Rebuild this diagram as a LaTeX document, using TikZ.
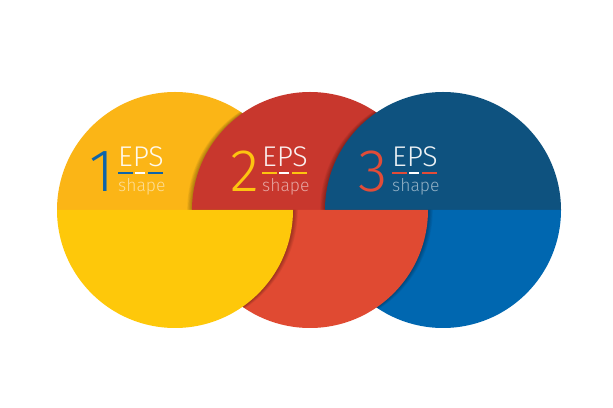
\documentclass[tikz,border=0pt]{standalone}
\usepackage{fontspec}
\setmainfont{Fira Sans}[UprightFont={* Light}]
\usepackage{tikz}
\usetikzlibrary{positioning, calc}
\definecolor{yeltop}{RGB}{251,181,22}
\definecolor{yelbot}{RGB}{254,200,10}
\definecolor{redtop}{RGB}{200,55,45}
\definecolor{redbot}{RGB}{224,74,50}
\definecolor{bluetop}{RGB}{14,82,127}
\definecolor{bluebot}{RGB}{0,103,176}
\definecolor{numblue}{RGB}{14,100,168}
\definecolor{numyel}{RGB}{253,196,16}
\definecolor{numred}{RGB}{226,76,56}

% half discs of radius 118pt
\newcommand{\tophalf}[1]{(#1) ++(118pt,0) arc[start angle=0, end angle=180, radius=118pt] -- cycle}
\newcommand{\bothalf}[1]{(#1) ++(-118pt,0) arc[start angle=180, end angle=360, radius=118pt] -- cycle}

\begin{document}
\begin{tikzpicture}[x=1pt, y=1pt,
    eps/.style={inner sep=0pt, text=white, text opacity=0.92, font=\fontsize{28.5}{30}\selectfont},
    shp/.style={inner sep=0pt, text=white, text opacity=0.55, font=\fontsize{17.5}{19}\selectfont},
    num/.style={inner sep=0pt, font=\fontsize{60}{62}\selectfont},
    rule/.style={line width=2pt},
    shade/.style={black, opacity=0.05},
  ]
  \fill[white] (0,0) rectangle (613,407);
  \useasboundingbox (0,0) rectangle (613,407);
  \coordinate (c1) at (175,197);
  \coordinate (c2) at (310,197);
  \coordinate (c3) at (443,197);

  % top halves, 3 above 2 above 1
  \fill[yeltop] \tophalf{c1};
  \begin{scope}
    \clip \tophalf{c1};
    \foreach \s in {1,...,6} {\fill[shade] \tophalf{$(c2)+(-\s*0.8pt,0)$};}
  \end{scope}
  \fill[redtop] \tophalf{c2};
  \begin{scope}
    \clip \tophalf{c2};
    \foreach \s in {1,...,6} {\fill[shade] \tophalf{$(c3)+(-\s*0.8pt,0)$};}
  \end{scope}
  \fill[bluetop] \tophalf{c3};

  % bottom halves, 1 above 2 above 3
  \fill[bluebot] \bothalf{c3};
  \begin{scope}
    \clip \bothalf{c3};
    \foreach \s in {1,...,6} {\fill[shade] \bothalf{$(c2)+(\s*0.8pt,0)$};}
  \end{scope}
  \fill[redbot] \bothalf{c2};
  \begin{scope}
    \clip \bothalf{c2};
    \foreach \s in {1,...,6} {\fill[shade] \bothalf{$(c1)+(\s*0.8pt,0)$};}
  \end{scope}
  \fill[yelbot] \bothalf{c1};

  % labels
  \node[eps, anchor=base west] (eps1) at (118,240) {EPS};
  \node[shp, anchor=base west] (shp1) at (118,215) {shape};
  \node[num, text=numblue, anchor=base east] (num1) at (114,215) {1};
  \draw[rule, numblue] ([yshift=-6pt]eps1.base west) -- +(15,0);
  \draw[rule, white] ([yshift=-6pt,xshift=17pt]eps1.base west) -- +(10,0);
  \draw[rule, numblue] ([yshift=-6pt,xshift=30pt]eps1.base west) -- +(15,0);

  \node[eps, anchor=base west] (eps2) at (262,240) {EPS};
  \node[shp, anchor=base west] (shp2) at (262,215) {shape};
  \node[num, text=numyel, anchor=base east] (num2) at (259,215) {2};
  \draw[rule, numyel] ([yshift=-6pt]eps2.base west) -- +(15,0);
  \draw[rule, white] ([yshift=-6pt,xshift=17pt]eps2.base west) -- +(10,0);
  \draw[rule, numyel] ([yshift=-6pt,xshift=30pt]eps2.base west) -- +(15,0);

  \node[eps, anchor=base west] (eps3) at (392,240) {EPS};
  \node[shp, anchor=base west] (shp3) at (392,215) {shape};
  \node[num, text=numred, anchor=base east] (num3) at (388,215) {3};
  \draw[rule, numred] ([yshift=-6pt]eps3.base west) -- +(15,0);
  \draw[rule, white] ([yshift=-6pt,xshift=17pt]eps3.base west) -- +(10,0);
  \draw[rule, numred] ([yshift=-6pt,xshift=30pt]eps3.base west) -- +(15,0);
\end{tikzpicture}
\end{document}
